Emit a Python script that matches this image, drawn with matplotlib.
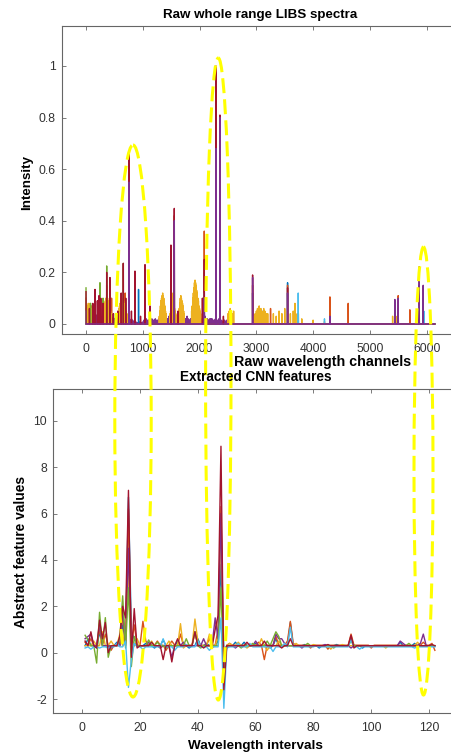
import numpy as np
import matplotlib
matplotlib.use("Agg")
import matplotlib.pyplot as plt
from matplotlib.patches import Ellipse

plt.rcParams['font.family'] = ['Liberation Sans', 'DejaVu Sans']
plt.rcParams['axes.unicode_minus'] = False

# matlab default line colours
c_blue = '#0072BD'
c_orange = '#D95319'
c_yellow = '#EDB120'
c_purple = '#7E2F8E'
c_green = '#77AC30'
c_cyan = '#4DBEEE'
c_red = '#A2142F'

n_channels = 6144
n_features = 122

# ---- raw spectra: peak channels / intensities per series ----
raw_blue_ch = [0, 40, 160, 250, 370, 430, 520, 660, 757, 925, 1040, 1350, 1500, 1555, 1700,
               2083, 2289, 2359, 2560, 2934, 3120, 3550, 4296, 5499, 5869, 5939]
raw_blue_h = [0.06, 0.05, 0.05, 0.07, 0.1, 0.08, 0.04, 0.1, 0.64, 0.134, 0.2, 0.04, 0.2, 0.3, 0.05,
              0.2, 0.95, 0.5, 0.04, 0.12, 0.05, 0.16, 0.05, 0.08, 0.15, 0.1]

raw_orange_ch = [0, 100, 250, 364, 450, 690, 757, 862, 1039, 1500, 1555, 2083, 2289, 2359, 2934,
                 3250, 3550, 4296, 4618, 5499, 5704, 5869]
raw_orange_h = [0.1, 0.07, 0.12, 0.15, 0.1, 0.12, 0.5, 0.18, 0.15, 0.1, 0.42, 0.36, 0.9, 0.7, 0.15,
                0.06, 0.15, 0.105, 0.08, 0.11, 0.055, 0.1]

raw_yellow_ch = [10, 20, 30, 40, 50, 60, 70, 80, 90, 100, 110, 120,
                 300, 310, 320, 330, 340, 350, 360, 370, 380, 390, 400, 410, 420, 430, 440,
                 560, 570, 580, 590, 600, 610, 620, 630, 640, 650, 660, 670, 680, 690, 700, 710, 720,
                 1290, 1300, 1310, 1320, 1330, 1340, 1350, 1360, 1370, 1380, 1390, 1400, 1410,
                 1480, 1490, 1500, 1510, 1520, 1530, 1540, 1550, 1560, 1570, 1580, 1590,
                 1630, 1640, 1650, 1660, 1670, 1680, 1690, 1700, 1710, 1720, 1730,
                 1860, 1870, 1880, 1890, 1900, 1910, 1920, 1930, 1940, 1950, 1960, 1970, 1980, 1990, 2000, 2010, 2020,
                 2289, 2359, 2500, 2520, 2540, 2560, 2580, 2600,
                 2950, 2980, 3000, 3020, 3050, 3080, 3100, 3130, 3150, 3180, 3200,
                 3300, 3350, 3400, 3450, 3500, 3550, 3600, 3650, 3680, 3720, 3800, 4000, 4200, 5400, 5480]
raw_yellow_h = [0.05, 0.06, 0.07, 0.08, 0.07, 0.06, 0.08, 0.07, 0.06, 0.05, 0.06, 0.05,
                0.04, 0.05, 0.07, 0.08, 0.09, 0.1, 0.09, 0.08, 0.1, 0.09, 0.07, 0.06, 0.07, 0.05, 0.04,
                0.04, 0.05, 0.06, 0.07, 0.08, 0.09, 0.1, 0.09, 0.08, 0.1, 0.09, 0.08, 0.07, 0.06, 0.05, 0.05, 0.04,
                0.03, 0.05, 0.07, 0.09, 0.1, 0.11, 0.12, 0.11, 0.1, 0.08, 0.07, 0.05, 0.04,
                0.04, 0.05, 0.07, 0.08, 0.1, 0.12, 0.09, 0.07, 0.06, 0.05, 0.04, 0.03,
                0.04, 0.06, 0.08, 0.1, 0.11, 0.1, 0.09, 0.08, 0.07, 0.05, 0.04,
                0.05, 0.07, 0.1, 0.12, 0.14, 0.16, 0.17, 0.16, 0.15, 0.13, 0.12, 0.1, 0.09, 0.07, 0.06, 0.05, 0.04,
                0.77, 0.2, 0.04, 0.05, 0.06, 0.05, 0.04, 0.05,
                0.03, 0.04, 0.05, 0.06, 0.07, 0.06, 0.05, 0.06, 0.05, 0.04, 0.04,
                0.04, 0.03, 0.05, 0.04, 0.06, 0.05, 0.04, 0.05, 0.08, 0.04, 0.02, 0.015, 0.01, 0.03, 0.03]

# low purple band under everything (every 20 channels from 0)
raw_purple_band = [0.03, 0.025, 0.03, 0.035, 0.025, 0.03, 0.035, 0.03, 0.025, 0.035, 0.03, 0.035, 0.03, 0.025,
                   0.03, 0.035, 0.03, 0.025, 0.03, 0.035, 0.03, 0.03, 0.025, 0.02, 0.025, 0.02, 0.025, 0.03,
                   0.03, 0.025, 0.035, 0.03, 0.03, 0.025, 0.025, 0.02,
                   0.02, 0.015, 0.02, 0.015, 0.02, 0.015, 0.01, 0.008, 0.008, 0.005, 0.005, 0.008, 0.008, 0.005,
                   0.008, 0.015, 0.015, 0.02, 0.015, 0.015, 0.02, 0.015, 0.02, 0.015, 0.015, 0.02, 0.015, 0.015, 0.02, 0.02,
                   0.02, 0.03, 0.02, 0.02, 0.03, 0.02, 0.02, 0.03, 0.02, 0.015, 0.02, 0.03, 0.02, 0.02, 0.015,
                   0.02, 0.02, 0.03, 0.02, 0.02, 0.015, 0.02, 0.02, 0.03, 0.02, 0.015, 0.02, 0.02, 0.015, 0.02,
                   0.02, 0.03, 0.03, 0.02, 0.02, 0.015, 0.02, 0.02, 0.03, 0.03, 0.02, 0.02, 0.015, 0.02, 0.02,
                   0.02, 0.015, 0.015, 0.02, 0.015, 0.015, 0.02, 0.015, 0.015, 0.01, 0.015, 0.015, 0.01, 0.015, 0.01,
                   0.01]
raw_purple_band_ch = list(range(0, 20 * len(raw_purple_band), 20))
raw_purple_ch = [757, 1555, 2083, 2289, 2359, 2934, 3550, 4296, 5440, 5499, 5869, 5939]
raw_purple_h = [0.55, 0.4, 0.1, 0.68, 0.8, 0.18, 0.12, 0.03, 0.095, 0.1, 0.222, 0.15]

raw_green_ch = [0, 80, 246, 300, 364, 420, 657, 757, 1039, 1555, 2289, 2359, 3740]
raw_green_h = [0.14, 0.08, 0.16, 0.1, 0.225, 0.1, 0.235, 0.3, 0.1, 0.15, 0.55, 0.3, 0.04]

raw_cyan_ch = [0, 300, 757, 2083, 2289, 2359, 3550, 3738, 4200, 5869, 5950]
raw_cyan_h = [0.05, 0.06, 0.63, 0.12, 0.85, 0.3, 0.12, 0.12, 0.02, 0.07, 0.05]

raw_red_ch = [0, 60, 120, 158, 200, 230, 260, 300, 364, 422, 480, 560, 620, 657, 700, 757, 800, 862,
              960, 1039, 1127, 1496, 1555, 1620, 2050, 2083, 2289, 2359, 2420, 2934, 3550, 5499, 5869]
raw_red_h = [0.125, 0.06, 0.08, 0.134, 0.09, 0.11, 0.1, 0.08, 0.2, 0.18, 0.04, 0.05, 0.12, 0.235, 0.1, 0.67, 0.05, 0.205,
             0.03, 0.23, 0.07, 0.306, 0.448, 0.05, 0.1, 0.25, 1.0, 0.81, 0.03, 0.19, 0.14, 0.06, 0.05]

# ---- CNN features: baseline + deviations (interval: value) ----
feat_blue_base = 0.3
feat_blue = {2: 0.6, 5: 0.2, 6: 0.9, 11: 0.3, 12: 0.45, 14: 1.2, 15: 0.4, 16: 6.7, 17: 0.9, 18: 0.6, 22: 0.4,
             25: 0.2, 28: 0.55, 33: 0.5, 37: 0.2, 40: 0.6, 43: 0.4, 47: 0.5, 48: 3.8, 49: 0.1, 53: 0.45,
             56: 0.45, 60: 0.4, 65: 0.2, 67: 0.6, 72: 1.3, 77: 0.35, 82: 0.2, 88: 0.35, 93: 0.65, 97: 0.2,
             110: 0.45, 115: 0.4}
feat_orange_base = 0.32
feat_orange = {1: 0.45, 3: 0.6, 6: 1.0, 8: 0.8, 10: 0.1, 14: 1.6, 16: 6.2, 17: 0.3, 18: 1.2, 21: 1.35, 22: 0.5,
               26: 0.5, 29: 0.1, 31: 0.5, 34: 0.8, 39: 0.9, 44: 0.6, 47: 1.0, 48: 6.3, 49: -0.8, 51: 0.4,
               58: 0.3, 61: 0.45, 63: -0.3, 67: 0.7, 71: 0.5, 72: 1.35, 73: 0.4, 79: 0.2, 85: 0.15,
               93: 0.8, 100: 0.2, 114: 0.3, 118: 0.45, 121: 0.4, 122: 0.1}
feat_yellow_base = 0.3
feat_yellow = {1: 0.3, 4: 0.5, 7: 0.9, 10: 0.5, 13: 0.8, 15: 1.3, 16: 3.5, 17: 0.1, 19: 0.6, 24: 0.5, 27: 0.2,
               30: 0.5, 34: 1.25, 35: 0.2, 39: 1.45, 40: 0.5, 44: 0.8, 45: 0.2, 47: 0.7, 48: 5.5, 49: -0.5,
               51: 0.4, 54: 0.45, 57: 0.2, 62: 0.6, 64: 0.1, 68: 0.5, 74: 0.4, 80: 0.35, 86: 0.15, 90: 0.35,
               105: 0.2, 112: 0.3, 116: 0.45}
feat_purple_base = 0.3
feat_purple = {1: 0.6, 2: 0.7, 3: 0.8, 6: 1.2, 10: 0.2, 14: 1.9, 16: 4.5, 17: 0.0, 18: 0.4, 23: 0.45, 27: 0.2,
               31: -0.2, 35: 0.45, 42: 0.6, 45: 0.4, 46: 1.5, 47: 0.6, 48: 6.0, 49: -1.0, 53: 0.2, 60: 0.5,
               67: 0.8, 68: 0.6, 69: 0.6, 70: 0.4, 76: 0.2, 84: 0.35, 93: 0.2, 110: 0.5, 111: 0.4, 117: 0.4,
               118: 0.8, 119: 0.3}
feat_green_base = 0.3
feat_green = {1: 0.75, 2: 0.55, 5: -0.45, 6: 1.74, 7: 0.3, 8: 1.51, 9: -0.2, 13: 0.6, 14: 2.45, 15: 0.2, 16: 2.8,
              17: -0.6, 18: 0.7, 23: 0.55, 26: 0.45, 29: 0.2, 36: 0.6, 39: 0.9, 41: 0.2, 48: 2.8, 49: -1.2,
              55: 0.2, 59: 0.4, 64: 0.5, 66: 0.6, 67: 0.9, 68: 0.7, 78: 0.4, 87: 0.2, 93: 0.5, 113: 0.4}
feat_cyan_base = 0.25
feat_cyan = {1: 0.2, 3: 0.15, 6: 0.2, 9: 0.2, 12: 0.4, 15: 0.5, 16: -1.5, 17: -0.3, 18: 0.4, 21: 0.15, 28: 0.6,
             32: 0.1, 36: 0.35, 40: 0.5, 44: 0.1, 48: 1.5, 49: -2.4, 50: 0.2, 54: 0.4, 58: 0.4, 66: 0.05,
             70: 0.4, 72: 1.1, 81: 0.3, 93: 0.55, 96: 0.15, 115: 0.2}
feat_red_base = 0.3
feat_red = {1: 0.5, 3: 0.9, 5: 0.2, 6: 1.4, 7: 0.6, 8: 1.3, 9: 0.0, 13: 0.7, 14: 2.0, 15: 1.5, 16: 7.0, 17: -0.2,
            18: 1.9, 19: 0.2, 24: 0.45, 28: -0.3, 31: -0.4, 33: 0.6, 39: 0.9, 42: 0.2, 46: 1.0, 47: 1.6,
            48: 8.9, 49: -1.6, 52: 0.3, 57: 0.45, 63: 0.5, 69: 0.2, 72: 0.6, 85: 0.35, 93: 0.75, 94: 0.2,
            121: 0.35}

raw_series = [(raw_purple_band_ch, raw_purple_band, c_purple),
              (raw_blue_ch, raw_blue_h, c_blue), (raw_orange_ch, raw_orange_h, c_orange),
              (raw_yellow_ch, raw_yellow_h, c_yellow), (raw_green_ch, raw_green_h, c_green),
              (raw_cyan_ch, raw_cyan_h, c_cyan), (raw_red_ch, raw_red_h, c_red),
              (raw_purple_ch, raw_purple_h, c_purple)]
feat_series = [(feat_blue_base, feat_blue, c_blue), (feat_orange_base, feat_orange, c_orange),
               (feat_yellow_base, feat_yellow, c_yellow), (feat_purple_base, feat_purple, c_purple),
               (feat_green_base, feat_green, c_green), (feat_cyan_base, feat_cyan, c_cyan),
               (feat_red_base, feat_red, c_red)]

W, H = 452, 753
fig = plt.figure(figsize=(W / 100, H / 100), dpi=100)

spine_col = '#666666'
tick_col = '#333333'


def style_axis(ax):
    for s in ['left', 'bottom', 'top']:
        ax.spines[s].set_color(spine_col)
        ax.spines[s].set_linewidth(0.8)
    ax.spines['right'].set_visible(False)
    ax.tick_params(direction='in', length=3, width=0.6, color=spine_col, labelcolor=tick_col,
                   labelsize=8.7, top=True, right=False)
    ax.tick_params(axis='x', pad=6.5)
    ax.tick_params(axis='y', pad=4.5)


# top: raw spectra
ax1 = fig.add_axes([62 / W, 1 - 334 / H, (458 - 62) / W, (334 - 26) / H])
chan = np.arange(n_channels)
for ch, h, col in raw_series:
    spec = np.zeros(n_channels)
    spec[np.array(ch)] = h
    ax1.plot(chan, spec, color=col, lw=1.0)
ax1.set_xlim(-423, 6552)
ax1.set_ylim(-0.0388, 1.155)
ax1.set_xticks(np.arange(0, 6001, 1000))
ax1.set_yticks([0, 0.2, 0.4, 0.6, 0.8, 1])
ax1.set_yticklabels(['0', '0.2', '0.4', '0.6', '0.8', '1'])
style_axis(ax1)

# bottom: CNN features
ax2 = fig.add_axes([53.3 / W, 1 - 712.7 / H, (458 - 53.3) / W, (712.7 - 389) / H])
xf = np.arange(1, n_features + 1)
for base, dev, col in feat_series:
    vals = np.full(n_features, base)
    vals[np.array(list(dev.keys())) - 1] = list(dev.values())
    ax2.plot(xf, vals, color=col, lw=1.0)
ax2.set_xlim(-10, 130)
ax2.set_ylim(-2.59, 11.37)
ax2.set_xticks(np.arange(0, 121, 20))
ax2.set_yticks(np.arange(-2, 11, 2))
style_axis(ax2)

# labels placed like the original figure
fig.text(260 / W, 1 - 15 / H, 'Raw whole range LIBS spectra', ha='center', va='center',
         fontsize=9.6, fontweight='bold')
fig.text(323 / W, 1 - 362 / H, 'Raw wavelength channels', ha='center', va='center',
         fontsize=10.3, fontweight='bold')
fig.text(27 / W, 1 - 182 / H, 'Intensity', ha='center', va='center', rotation=90,
         fontsize=9.6, fontweight='bold')
fig.text(256 / W, 1 - 377 / H, 'Extracted CNN features', ha='center', va='center',
         fontsize=9.8, fontweight='bold')
fig.text(255.5 / W, 1 - 745.7 / H, 'Wavelength intervals', ha='center', va='center',
         fontsize=9.7, fontweight='bold')
fig.text(21 / W, 1 - 552 / H, 'Abstract feature values', ha='center', va='center', rotation=90,
         fontsize=9.9, fontweight='bold')

# yellow dashed ellipses drawn across both panels (pixel coords)
ov = fig.add_axes([0, 0, 1, 1])
ov.set_xlim(0, W)
ov.set_ylim(H, 0)
ov.axis('off')
ov.patch.set_alpha(0)
for cx, cy, ew, eh in [(133, 421, 36.4, 552), (218.3, 379, 25.4, 642), (423.5, 471, 19, 448)]:
    ov.add_patch(Ellipse((cx, cy), ew, eh, fill=False, edgecolor='#FFFF00', lw=2.2,
                         linestyle=(0, (4.9, 2))))

fig.savefig('out.png', dpi=100)
